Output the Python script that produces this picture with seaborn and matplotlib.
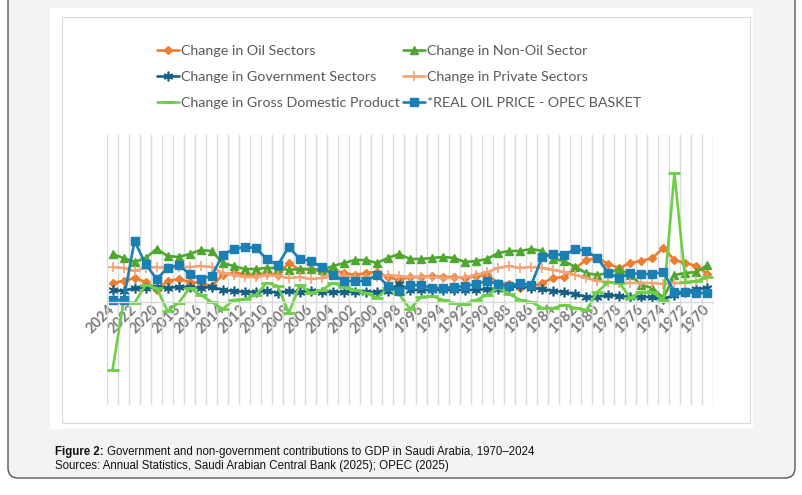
import numpy as np
import pandas as pd
import seaborn as sns
import matplotlib.pyplot as plt
from matplotlib.patches import FancyBboxPatch, Rectangle
from matplotlib import font_manager

# years run from 2024 (left) back to 1970 (right)
years = list(range(2024, 1969, -1))

# values (no y scale shown, units as % change)
oil_sectors = [19, 21, 24, 20, 12, 21, 23, 20, 19, 16, 27, 29, 28, 27, 29, 27, 39, 32, 33, 30,
               32, 29, 27, 29, 30, 25, 22, 25, 25, 26, 25, 25, 24, 26, 27, 19, 18, 14, 15, 19,
               24, 25, 34, 42, 44, 38, 34, 39, 41, 44, 54, 42, 39, 36, 28]
non_oil_sector = [48, 44, 40, 44, 53, 46, 45, 48, 52, 51, 39, 36, 33, 33, 34, 34, 32, 33, 33, 32,
                  36, 39, 42, 42, 39, 44, 48, 43, 43, 44, 45, 44, 40, 41, 43, 49, 51, 51, 53, 51,
                  43, 41, 35, 29, 27, 29, 33, 27, 17, 14, 4, 27, 29, 30, 37]
government = [12, 11, 14, 14, 15, 14, 15, 15, 14, 15, 12, 11, 10, 10, 11, 9, 11, 10, 11, 10,
              10, 10, 10, 10, 10, 11, 18, 12, 12, 12, 12, 12, 12, 12, 13, 13, 15, 16, 14, 13,
              11, 10, 8, 5, 5, 7, 6, 5, 5, 5, 3, 7, 10, 13, 14]
private = [35, 34, 31, 34, 35, 34, 35, 35, 36, 35, 29, 27, 25, 25, 27, 26, 24, 25, 23, 24,
           27, 26, 25, 24, 25, 27, 26, 25, 25, 25, 24, 24, 25, 27, 30, 34, 36, 34, 35, 34,
           32, 30, 27, 24, 21, 20, 19, 19, 19, 19, 18, 19, 19, 21, 24]
gdp = [-68, 0, -1, 17, 14, -9, -1, 14, 7, 0, -7, 2, 3, 7, 19, 16, -11, 17, 9, 12,
       19, 15, 12, 9, 4, 14, 8, -7, 5, 6, 2, -1, -2, 2, 7, 14, 8, 2, 0, -6,
       -6, -3, -6, -8, 10, 20, 19, 4, 10, 10, 2, 129, 20, 21, 25]
oil_price = [2, 2, 61, 38, 23, 34, 37, 28, 23, 26, 47, 53, 55, 54, 43, 37, 55, 43, 41, 35,
             27, 21, 21, 21, 27, 16, 11, 17, 17, 14, 14, 15, 16, 18, 21, 18, 16, 19, 17, 45,
             48, 47, 53, 51, 44, 29, 24, 29, 28, 28, 30, 10, 10, 9, 9]

series_names = ["Change in Oil Sectors", "Change in Non-Oil Sector",
                "Change in Government Sectors", "Change in Private Sectors",
                "Change in Gross Domestic Product", "*REAL OIL PRICE - OPEC BASKET"]

df = pd.DataFrame({"year": years,
                   series_names[0]: oil_sectors,
                   series_names[1]: non_oil_sector,
                   series_names[2]: government,
                   series_names[3]: private,
                   series_names[4]: gdp,
                   series_names[5]: oil_price})

styles = {
    series_names[0]: dict(color="#ED7D31", marker="D", markersize=4.5),
    series_names[1]: dict(color="#4EA72E", marker="^", markersize=6),
    series_names[2]: dict(color="#156082", marker=(6, 2, 0), markersize=7, markeredgewidth=1.2),
    series_names[3]: dict(color="#F3A374", marker="+", markersize=7, markeredgewidth=1.2),
    series_names[4]: dict(color="#6CCF47", marker="_", markersize=8, markeredgewidth=2),
    series_names[5]: dict(color="#1A7FB3", marker="s", markersize=5.5),
}

sns.set_style("white")
plt.rcParams["font.family"] = ["Lato", "DejaVu Sans"]

fig = plt.figure(figsize=(8.03, 4.95), dpi=100)

# background: rounded frame, white chart panel
bg = fig.add_axes([0, 0, 1, 1], zorder=0)
bg.set_xlim(0, 803)
bg.set_ylim(495, 0)
bg.axis("off")
bg.add_patch(FancyBboxPatch((8, -20), 787, 498, boxstyle="round,pad=0,rounding_size=10",
                            fc="#f3f3f3", ec="#555555", lw=1.0))
bg.add_patch(Rectangle((50, 8), 703, 421, fc="white", ec="none"))
bg.add_patch(Rectangle((62, 17), 688, 406, fc="none", ec="#d9d9d9", lw=0.8))

ax = fig.add_axes([107 / 803, 1 - 405 / 495, 606 / 803, 270 / 495], zorder=1)
ax.set_facecolor("none")

for name in series_names:
    st = dict(styles[name])
    st.setdefault("markeredgewidth", 1.0)
    sns.lineplot(data=df, x="year", y=name, ax=ax, label=name, linewidth=1.9,
                 markeredgecolor=st["color"], **st)

ax.set_xlim(2024.5, 1969.5)
ax.set_ylim(-103, 167)

# category axis sits on the zero line (set before tick labels: this resets ticks)
for s in ["top", "right", "left"]:
    ax.spines[s].set_visible(False)
ax.spines["bottom"].set_position(("data", 0))
ax.spines["bottom"].set_color("#d9d9d9")
ax.spines["bottom"].set_linewidth(1)

# vertical gridlines between categories
ax.tick_params(axis="x", which="both", length=0, pad=4)
ax.set_xticks(np.arange(1969.5, 2025, 1), minor=True)
ax.grid(which="minor", axis="x", color="#d9d9d9", lw=1)
ax.grid(which="major", visible=False)
ax.set_xticks(years[::2], [str(y) for y in years[::2]], rotation=45, ha="right", va="center",
              rotation_mode="anchor", fontsize=10.5, fontweight="bold", color="#7a7a7a")
ax.set_yticks([])
ax.set_xlabel("")
ax.set_ylabel("")

handles, labels = ax.get_legend_handles_labels()
ax.get_legend().remove()
order = [0, 2, 4, 1, 3, 5]
fig.legend([handles[i] for i in order], [labels[i] for i in order],
           loc="center", bbox_to_anchor=(399 / 803, 1 - 77 / 495), ncol=2,
           frameon=False, fontsize=10.3, handlelength=1.55, handletextpad=0.15,
           columnspacing=0.2, labelspacing=1.0, labelcolor="#595959")

# caption
names = {f.name for f in font_manager.fontManager.ttflist}
cap_family = ["Liberation Sans Narrow"] if "Liberation Sans Narrow" in names else ["Liberation Sans"]
cap_size = 9.5 if "Liberation Sans Narrow" in names else 8.3
t1 = bg.text(55, 452, "Figure 2:", fontsize=cap_size, fontweight="bold", family=cap_family,
             va="center", color="#111111")
fig.canvas.draw()
bb = t1.get_window_extent()
bg.text(bb.x1 + 3, 452, "Government and non-government contributions to GDP in Saudi Arabia, 1970\u20132024",
        fontsize=cap_size, family=cap_family, va="center", color="#111111")
bg.text(55, 466, "Sources: Annual Statistics, Saudi Arabian Central Bank (2025); OPEC (2025)",
        fontsize=cap_size, family=cap_family, va="center", color="#111111")

fig.savefig("out.png", dpi=100, facecolor="white")
